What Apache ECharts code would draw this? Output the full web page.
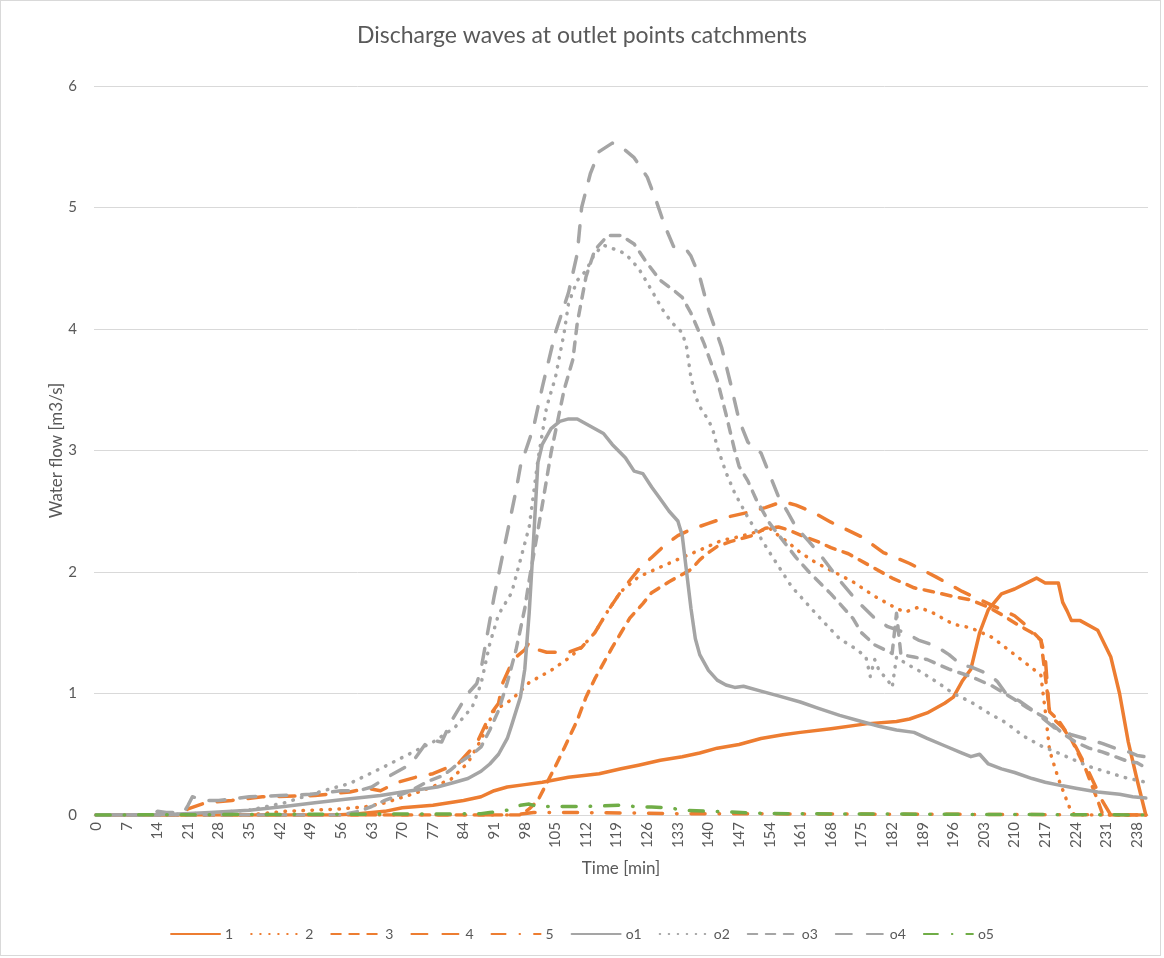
<!DOCTYPE html>
<html>
<head>
<meta charset="utf-8">
<script src="https://cdn.jsdelivr.net/npm/echarts@6/dist/echarts.min.js"></script>
<style>
  html, body { margin: 0; padding: 0; background: #ffffff; }
  #chart { width: 1164px; height: 958px; position: absolute; left: 0; top: 0; }
  #frame { position: absolute; left: 0; top: 0; width: 1159px; height: 954px; border: 1px solid #d9d9d9; pointer-events: none; }
</style>
</head>
<body>
<div id="chart"></div>
<div id="frame"></div>
<script>
// Time axis: one category per minute
const minutes = Array.from({ length: 241 }, (_, i) => String(i));

// Computed discharge [m3/s] at catchment outlets, as [minute, value]
const s1 = [[0,0],[55,0],[60,0.01],[66,0.03],[70,0.06],[77,0.08],[84,0.12],[88,0.15],[91,0.2],[94,0.23],[98,0.25],[102,0.27],[108,0.31],[115,0.34],[120,0.38],[124,0.41],[129,0.45],[134,0.48],[138,0.51],[142,0.55],[147,0.58],[152,0.63],[157,0.66],[161,0.68],[168,0.71],[176,0.75],[183,0.77],[186,0.79],[190,0.84],[194,0.92],[196,0.97],[198,1.1],[200,1.2],[202,1.5],[204,1.69],[207,1.82],[210,1.86],[215,1.95],[217,1.91],[220,1.91],[221,1.75],[222,1.68],[223,1.6],[225,1.6],[229,1.52],[232,1.3],[234,1.0],[236,0.6],[238,0.29],[240,0]];
const s2 = [[0,0],[35,0],[43,0.03],[56,0.05],[62,0.07],[66,0.1],[73,0.18],[81,0.29],[85,0.43],[88,0.62],[91,0.86],[95,0.95],[99,1.09],[104,1.19],[108,1.29],[111,1.38],[114,1.5],[117,1.68],[120,1.84],[124,1.96],[129,2.04],[134,2.12],[138,2.18],[143,2.26],[147,2.29],[151,2.33],[154,2.36],[156,2.3],[158,2.25],[161,2.16],[164,2.09],[166,2.05],[173,1.92],[178,1.8],[183,1.7],[185,1.67],[188,1.71],[191,1.67],[196,1.57],[200,1.54],[205,1.46],[210,1.32],[214,1.21],[216,1.15],[217,0.86],[218,0.53],[220,0.3],[223,0.02],[224,0],[240,0]];
const s3 = [[0,0],[97,0],[99,0.05],[101,0.12],[103,0.26],[105,0.4],[107,0.55],[110,0.78],[112,0.97],[114,1.12],[116,1.25],[118,1.38],[120,1.5],[122,1.62],[125,1.74],[127,1.83],[131,1.92],[134,1.98],[136,2.02],[138,2.1],[140,2.16],[142,2.21],[145,2.25],[148,2.28],[150,2.3],[153,2.36],[156,2.37],[158,2.35],[162,2.29],[165,2.25],[168,2.2],[172,2.15],[177,2.05],[182,1.95],[187,1.87],[191,1.84],[197,1.79],[200,1.77],[204,1.71],[207,1.65],[211,1.56],[214,1.5],[216,1.44],[217,1.15],[218,0.85],[220,0.78],[223,0.62],[226,0.4],[229,0.12],[230,0.02],[231,0],[240,0]];
const s4 = [[0,0],[19,0],[21,0.05],[25,0.1],[31,0.12],[38,0.15],[50,0.16],[58,0.19],[62,0.22],[65,0.2],[69,0.27],[73,0.31],[77,0.34],[83,0.43],[87,0.59],[90,0.82],[92,0.92],[93,1.09],[95,1.25],[96,1.3],[98,1.36],[99,1.42],[101,1.36],[103,1.34],[108,1.34],[111,1.38],[114,1.5],[117,1.68],[120,1.84],[124,2.02],[127,2.12],[130,2.22],[133,2.3],[136,2.35],[140,2.4],[144,2.45],[149,2.49],[153,2.53],[157,2.58],[160,2.55],[164,2.49],[168,2.41],[175,2.29],[180,2.16],[186,2.07],[192,1.96],[198,1.84],[204,1.74],[210,1.64],[213,1.55],[216,1.44],[217,1.3],[218,0.82],[221,0.72],[224,0.56],[227,0.35],[230,0.12],[232,0],[240,0]];
const s5 = [[0,0],[95,0],[100,0.02],[110,0.02],[125,0.015],[135,0.01],[150,0.01],[200,0.005],[240,0]];
const o1 = [[0,0],[14,0],[20,0.01],[26,0.02],[35,0.04],[43,0.07],[50,0.1],[57,0.13],[65,0.16],[70,0.19],[78,0.23],[82,0.27],[85,0.3],[88,0.36],[90,0.42],[92,0.5],[94,0.63],[95,0.74],[97,0.97],[98,1.2],[99,1.66],[100,2.26],[101,2.9],[102,3.05],[104,3.18],[106,3.24],[108,3.26],[110,3.26],[113,3.2],[116,3.14],[118,3.05],[121,2.94],[123,2.83],[125,2.81],[127,2.7],[129,2.6],[131,2.5],[133,2.42],[134,2.3],[135,2.0],[136,1.7],[137,1.45],[138,1.32],[140,1.19],[142,1.11],[144,1.07],[146,1.05],[148,1.06],[152,1.02],[156,0.98],[161,0.93],[165,0.88],[170,0.82],[175,0.77],[179,0.73],[183,0.7],[187,0.68],[190,0.63],[194,0.57],[198,0.51],[200,0.48],[202,0.5],[204,0.42],[207,0.38],[210,0.35],[214,0.3],[217,0.27],[221,0.24],[224,0.22],[229,0.19],[234,0.17],[237,0.15],[240,0.14]];
const o2 = [[0,0],[14,0],[21,0.01],[28,0.02],[35,0.04],[43,0.1],[50,0.18],[58,0.26],[66,0.4],[72,0.51],[77,0.6],[82,0.72],[86,0.89],[88,1.08],[90,1.41],[92,1.65],[95,1.83],[97,2.1],[99,2.37],[101,2.92],[103,3.36],[105,3.6],[107,3.97],[108,4.21],[110,4.4],[112,4.48],[114,4.62],[116,4.69],[119,4.65],[121,4.62],[124,4.5],[126,4.38],[130,4.13],[132,4.04],[134,3.97],[135,3.85],[136,3.6],[137,3.45],[138,3.36],[140,3.25],[141,3.17],[142,3.03],[144,2.82],[146,2.65],[149,2.45],[154,2.16],[159,1.88],[165,1.64],[170,1.45],[174,1.36],[176,1.3],[177,1.14],[178,1.28],[179,1.19],[181,1.11],[182,1.05],[183,1.3],[185,1.25],[188,1.19],[192,1.1],[196,1.0],[200,0.93],[204,0.84],[208,0.76],[212,0.65],[216,0.57],[220,0.51],[227,0.4],[235,0.31],[240,0.27]];
const o3 = [[0,0],[56,0],[60,0.03],[63,0.07],[66,0.12],[72,0.2],[76,0.28],[79,0.32],[81,0.37],[83,0.43],[86,0.5],[88,0.56],[90,0.7],[92,0.86],[94,1.09],[96,1.36],[98,1.7],[99,1.93],[102,2.55],[104,2.98],[107,3.5],[109,3.75],[110,4.05],[112,4.43],[114,4.65],[117,4.77],[120,4.77],[123,4.7],[126,4.54],[129,4.4],[132,4.32],[134,4.26],[136,4.13],[139,3.88],[142,3.58],[144,3.3],[146,3.0],[147,2.87],[149,2.75],[151,2.59],[154,2.4],[157,2.26],[160,2.12],[163,2.0],[168,1.82],[173,1.62],[175,1.5],[178,1.4],[182,1.33],[183,1.66],[184,1.32],[187,1.3],[190,1.28],[195,1.2],[200,1.14],[205,1.06],[210,0.95],[213,0.88],[217,0.8],[221,0.67],[224,0.6],[227,0.55],[230,0.52],[233,0.48],[236,0.44],[238,0.43],[240,0.39]];
const o4 = [[0,0],[13,0],[14,0.03],[16,0.02],[20,0.02],[21,0.08],[22,0.15],[25,0.12],[28,0.12],[35,0.15],[42,0.16],[49,0.17],[56,0.2],[60,0.2],[63,0.23],[66,0.3],[71,0.4],[73,0.47],[76,0.62],[79,0.6],[81,0.76],[85,1.0],[87,1.08],[88,1.2],[89,1.4],[91,1.8],[93,2.15],[96,2.67],[97,2.87],[100,3.19],[102,3.52],[105,3.97],[108,4.3],[110,4.62],[111,5.0],[113,5.28],[115,5.46],[118,5.53],[120,5.5],[123,5.41],[126,5.25],[128,5.06],[130,4.85],[132,4.68],[135,4.65],[136,4.6],[138,4.43],[140,4.16],[143,3.85],[145,3.56],[147,3.25],[149,3.07],[150,3.03],[152,2.98],[154,2.8],[156,2.62],[158,2.5],[160,2.37],[163,2.25],[166,2.12],[170,1.93],[174,1.76],[178,1.62],[181,1.55],[185,1.5],[188,1.44],[192,1.39],[195,1.32],[198,1.23],[200,1.22],[204,1.16],[206,1.1],[208,1.0],[211,0.94],[215,0.84],[219,0.72],[223,0.66],[226,0.63],[230,0.59],[233,0.55],[236,0.52],[238,0.49],[240,0.48]];
const o5 = [[0,0],[88,0.01],[90,0.02],[94,0.04],[97,0.08],[99,0.09],[101,0.07],[105,0.07],[112,0.07],[116,0.075],[120,0.08],[123,0.07],[127,0.065],[131,0.06],[134,0.04],[140,0.03],[145,0.025],[150,0.015],[160,0.01],[180,0.008],[200,0.005],[220,0.003],[240,0]];

const ORANGE = '#ED7D31', GREY = '#A5A5A5', GREEN = '#70AD47';
const FONT = 'Lato, "Open Sans", sans-serif';
const TEXT = '#595959';

// Line dash patterns (round caps add the line width to each dash)
const DOT = [0.5, 8.5];
const DASH = [9.5, 8.5];
const LONGDASH = [16, 15];
const DASHDOT = [14, 14, 0.5, 14];

function line(name, data, color, dash) {
  return {
    name, type: 'line', data,
    showSymbol: false, symbol: 'none',
    lineStyle: { color, width: 3.5, type: dash || 'solid', cap: 'round', join: 'round' },
    itemStyle: { color },
    emphasis: { disabled: true },
    animation: false
  };
}

const chart = echarts.init(document.getElementById('chart'), null, { renderer: 'canvas' });
chart.setOption({
  backgroundColor: '#ffffff',
  textStyle: { fontFamily: FONT },
  title: {
    text: 'Discharge waves at outlet points catchments',
    left: 'center', top: 24, padding: 0,
    textStyle: { fontFamily: FONT, fontSize: 23, fontWeight: 'normal', color: TEXT }
  },
  legend: {
    bottom: 17, left: 'center', padding: 0,
    itemWidth: 49, itemHeight: 14, itemGap: 17,
    itemStyle: { opacity: 0, color: 'rgba(0,0,0,0)', borderColor: 'rgba(0,0,0,0)', borderWidth: 0 },
    textStyle: { fontFamily: FONT, fontSize: 14, color: TEXT },
    data: ['1', '2', '3', '4', '5', 'o1', 'o2', 'o3', 'o4', 'o5']
  },
  grid: { left: 94, right: 16, top: 86, bottom: 143, containLabel: false },
  xAxis: {
    type: 'category', data: minutes, boundaryGap: true,
    name: 'Time [min]', nameLocation: 'middle', nameGap: 45,
    nameTextStyle: { fontFamily: FONT, fontSize: 17, color: TEXT },
    axisLine: { lineStyle: { color: '#d9d9d9', width: 1 } },
    axisTick: { show: false },
    axisLabel: { interval: 6, rotate: 90, margin: 7, fontFamily: FONT, fontSize: 15, color: TEXT },
    splitLine: { show: false }
  },
  yAxis: {
    type: 'value', min: 0, max: 6, interval: 1,
    name: 'Water flow [m3/s]', nameLocation: 'middle', nameGap: 29, nameMoveOverlap: false,
    nameTextStyle: { fontFamily: FONT, fontSize: 17, color: TEXT },
    axisLine: { show: false }, axisTick: { show: false },
    axisLabel: { margin: 17, fontFamily: FONT, fontSize: 15, color: TEXT },
    splitLine: { lineStyle: { color: '#d9d9d9', width: 1 } }
  },
  series: [
    line('1', s1, ORANGE),
    line('2', s2, ORANGE, DOT),
    line('3', s3, ORANGE, DASH),
    line('4', s4, ORANGE, LONGDASH),
    line('5', s5, ORANGE, DASHDOT),
    line('o1', o1, GREY),
    line('o2', o2, GREY, DOT),
    line('o3', o3, GREY, DASH),
    line('o4', o4, GREY, LONGDASH),
    line('o5', o5, GREEN, DASHDOT)
  ]
});
</script>
</body>
</html>
